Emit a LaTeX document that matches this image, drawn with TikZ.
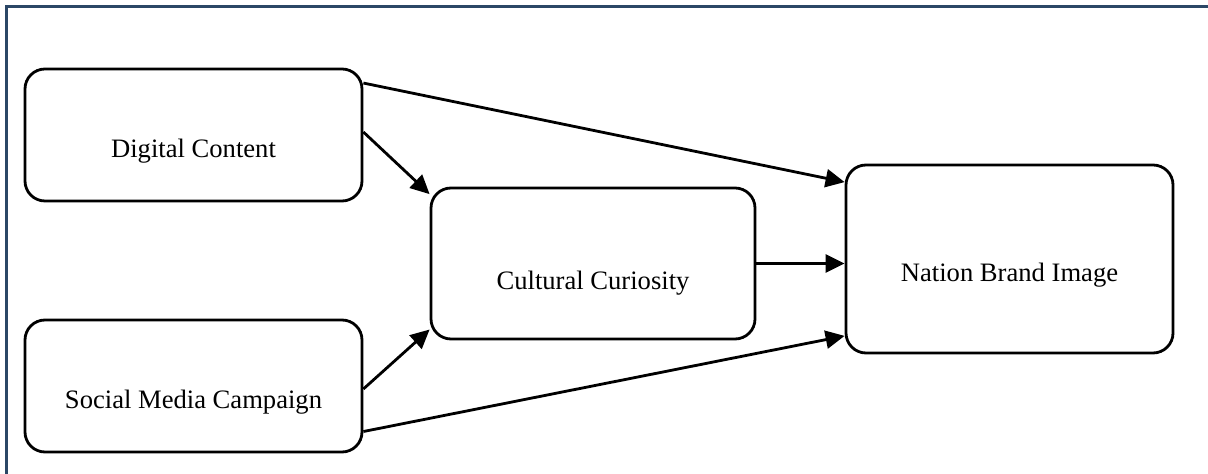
\documentclass[tikz,border=0pt]{standalone}
\usepackage{fontspec}
\setmainfont{Liberation Serif}
\usepackage{xcolor}
\usetikzlibrary{arrows.meta, positioning}
\definecolor{framec}{HTML}{2B4766}

\begin{document}
\begin{tikzpicture}[x=0.5pt, y=-0.5pt, >={Triangle[length=9.5pt,width=9pt]}]
  \tikzstyle{box}=[rectangle, rounded corners=10pt, draw=black, line width=1.4pt,
                   minimum width=168.5pt, minimum height=66pt, inner sep=0pt,
                   font=\fontsize{13.3}{16}\selectfont, text height=23pt, text depth=0pt]
  \tikzstyle{arr}=[->, line width=1.4pt]
  \tikzstyle{frm}=[draw=framec, line width=1.2pt]

  \useasboundingbox (0,0) rectangle (1208,474);
  \draw[frm] (6.5,474) |- (1208,6.5);

  \node[box](dig) at (193.5,135){Digital Content};
  \node[box](soc) at (193.5,386){Social Media Campaign};
  \node[box, minimum width=162pt, minimum height=75.5pt, text height=26pt](cur) at (593,263.5){Cultural Curiosity};
  \node[box, minimum width=163.5pt, minimum height=94pt](nat) at (1009.5,259){Nation Brand Image};

  \draw[arr](dig.17.2)--(nat.155.9);
  \draw[arr](dig.1)--(cur.157.5);
  \draw[arr](cur.east)--(cur.east -| nat.west);
  \draw[arr](soc.-1.4)--(cur.202.6);
  \draw[arr](soc.-15.3)--(nat.205.8);
\end{tikzpicture}
\end{document}
